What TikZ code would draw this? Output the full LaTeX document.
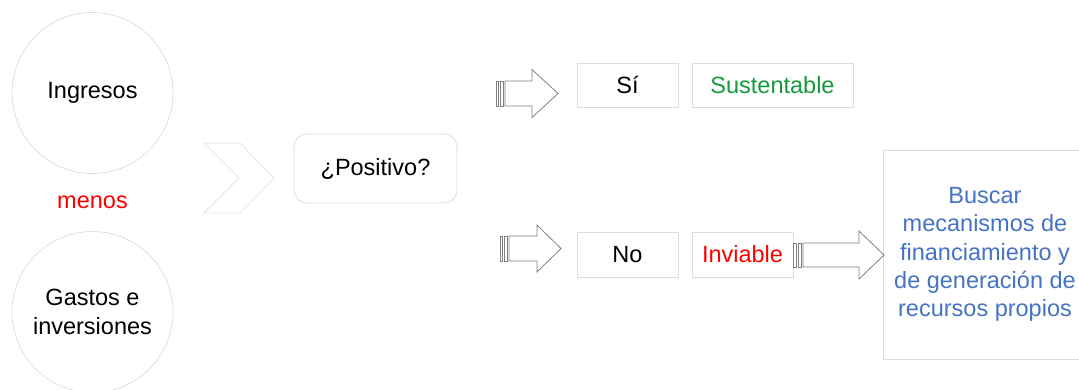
\documentclass[tikz,border=0pt]{standalone}
\usepackage{fontspec}
\setmainfont{Liberation Sans}
\definecolor{edgegray}{HTML}{DCDCDC}
\definecolor{chevgray}{HTML}{E2E2E2}
\definecolor{arrowgray}{HTML}{808080}
\definecolor{okgreen}{HTML}{149A3C}
\definecolor{badred}{HTML}{FF0000}
\definecolor{actionblue}{HTML}{4472C4}

% striped block arrow: left x, shaft start x, head base x, tip x, mid y, shaft half height, head half height
\newcommand\stripedarrow[7]{%
  \pgfmathsetmacro\sdw{(#2-#1)}%
  \draw[arrowline] (#1,#5-#6) rectangle (#1+0.3*\sdw,#5+#6);
  \draw[arrowline] (#1+0.5*\sdw,#5-#6) rectangle (#1+0.8*\sdw,#5+#6);
  \draw[arrowline] (#2,#5-#6) -- (#3,#5-#6) -- (#3,#5-#7) -- (#4,#5)
    -- (#3,#5+#7) -- (#3,#5+#6) -- (#2,#5+#6) -- cycle;
}

\begin{document}
\begin{tikzpicture}[x=1pt,y=-1pt,
  lbl/.style={font=\fontsize{23.5}{28.3}\selectfont, align=center},
  disc/.style={lbl, circle, draw=edgegray, line width=0.7pt, minimum size=161pt, inner sep=0pt},
  flatbox/.style={lbl, rectangle, draw=edgegray, line width=0.8pt, inner sep=0pt},
  roundbox/.style={flatbox, rounded corners=13pt},
  arrowline/.style={draw=arrowgray, line width=0.8pt, fill=white, line join=miter}
]
\useasboundingbox (0,0) rectangle (1079,389);
\clip (0,0) rectangle (1079,389);

% the two quantities being compared
\node[disc] (ingresos) at (92.5,93) {Ingresos};
\node[lbl, text=badred] (menos) at (92.5,202) {menos};
\node[disc] (gastos) at (92.5,312) {Gastos e\\inversiones};

% chevron leading to the question
\draw[draw=chevgray, line width=0.8pt, line join=miter]
  (204,143) -- (240,143) -- (274,178) -- (240,213) -- (204,213) -- (239,178) -- cycle;

\node[roundbox, minimum width=163pt, minimum height=69pt] (positivo) at (375.5,168.5) {¿Positivo?};

% positive branch
\stripedarrow{496}{505}{532}{558}{93.5}{12.5}{24}
\node[flatbox, minimum width=101pt, minimum height=44pt] (si) at (627.5,85) {Sí};
\node[flatbox, minimum width=161pt, minimum height=44pt, text=okgreen] (sust) at (772.5,85) {Sustentable};

% negative branch
\stripedarrow{500}{509}{537}{561}{248.5}{12.5}{23.5}
\node[flatbox, minimum width=101pt, minimum height=45pt] (no) at (627.5,254.5) {No};
\node[flatbox, minimum width=101pt, minimum height=45pt, text=badred] (inviable) at (742.5,254.5) {Inviable};

\node[flatbox, minimum width=204pt, minimum height=209pt, text=actionblue] (accion) at (985,254.5)
  {Buscar\\mecanismos de\\financiamiento y\\de generación de\\recursos propios};

\stripedarrow{793}{803}{859}{884}{255}{12}{24}
\end{tikzpicture}
\end{document}
